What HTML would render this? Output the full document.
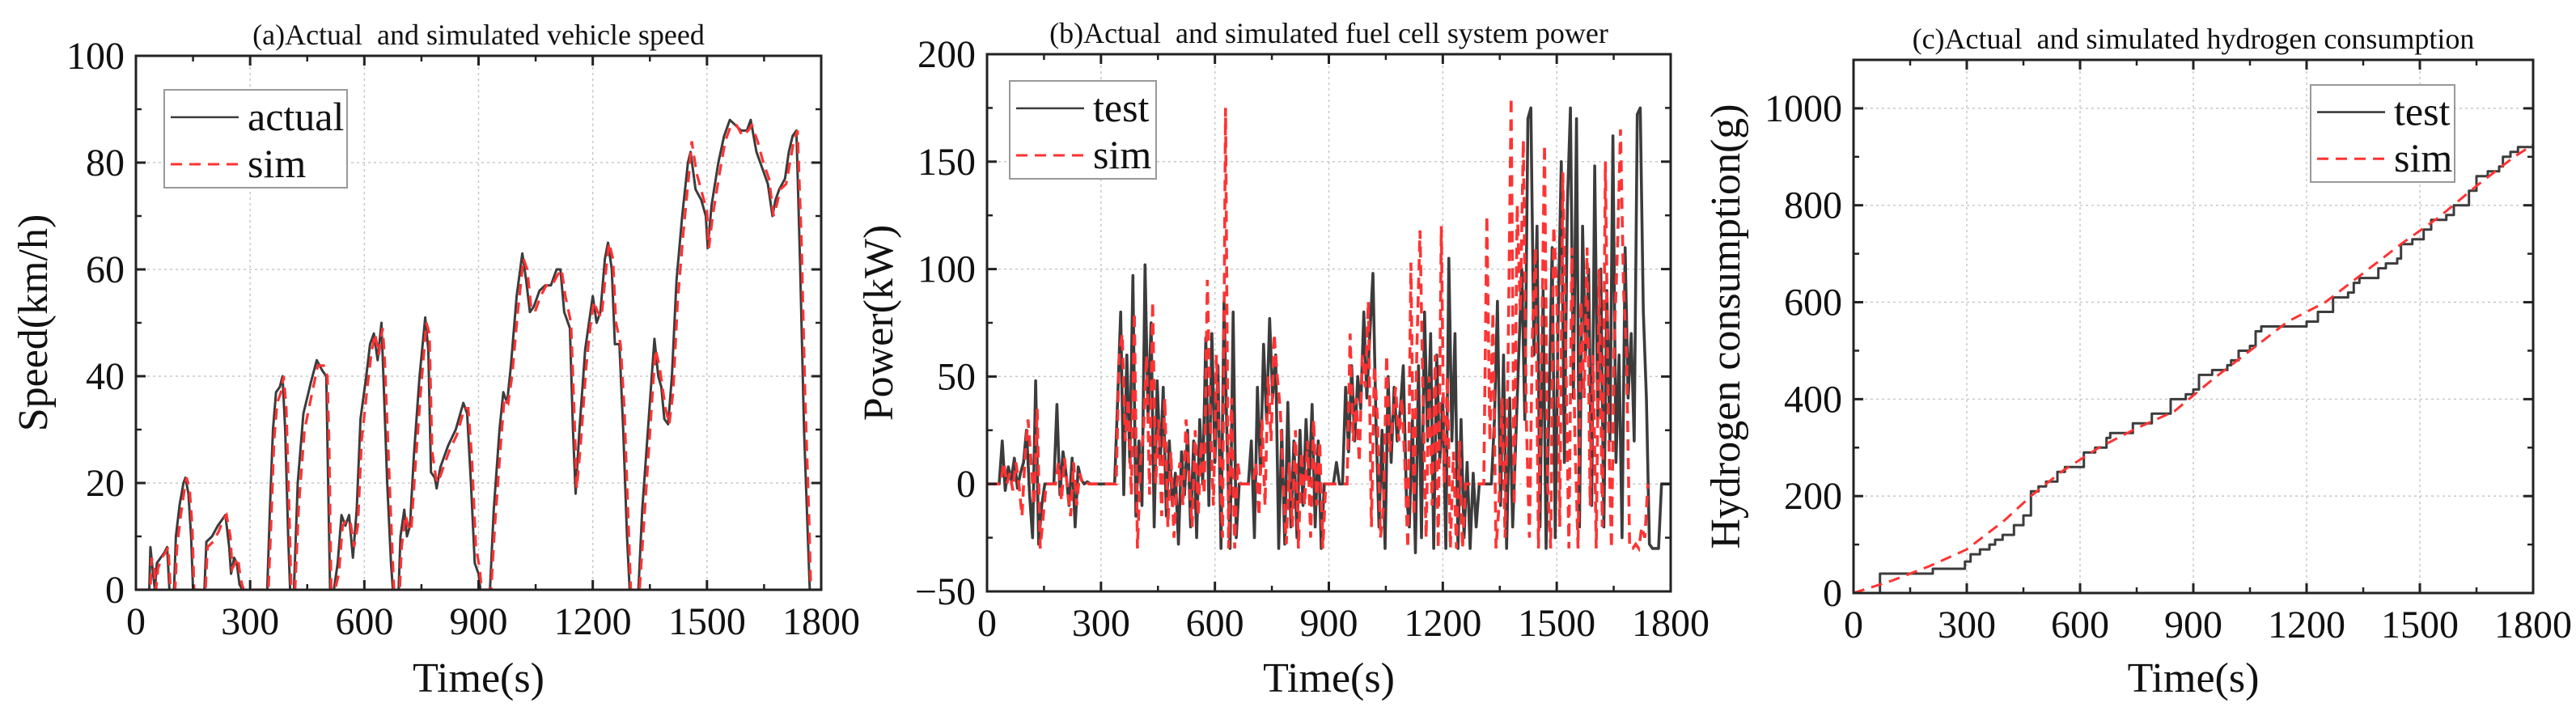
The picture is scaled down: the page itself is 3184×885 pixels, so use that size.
<!DOCTYPE html>
<html><head><meta charset="utf-8">
<style>
html,body{margin:0;padding:0;background:#fff;}
svg{display:block;font-family:"Liberation Serif",serif;}
text{font-family:"Liberation Serif",serif;white-space:pre;}
</style></head>
<body>
<svg id="fig" width="3184" height="885" viewBox="0 0 3184 885" xmlns="http://www.w3.org/2000/svg"></svg>
<script>
// ---- Panel (a) speed data ----
const speedT = [0,35,38,45,50,55,65,75,82,88,100,105,115,125,130,138,145,150,180,185,200,215,225,235,245,250,258,265,272,280,345,352,360,368,378,385,392,400,405,415,425,440,460,475,490,500,505,510,520,530,540,550,560,570,580,590,605,615,625,635,645,650,660,670,675,690,695,705,712,720,730,745,760,768,775,785,790,800,820,840,860,870,880,890,900,905,930,940,955,965,975,985,1000,1015,1025,1035,1045,1060,1075,1090,1105,1115,1125,1140,1148,1155,1165,1180,1190,1200,1210,1220,1232,1240,1250,1258,1270,1280,1290,1297,1320,1330,1345,1355,1362,1372,1380,1388,1398,1408,1420,1435,1450,1457,1470,1485,1497,1502,1512,1530,1545,1560,1575,1590,1605,1615,1630,1645,1660,1672,1680,1690,1705,1715,1725,1735,1745,1755,1765,1770,1800];
const speedActual = [0,0,8,3,0,5,6,7,8,0,0,10,16,20,21,18,10,0,0,9,10,12,13,14,8,3,6,5,1,0,0,15,30,37,38,40,30,10,0,0,20,33,39,43,41,40,20,0,0,5,14,12,14,6,15,32,40,46,48,43,50,40,20,5,0,0,10,15,10,12,25,40,51,45,22,21,19,23,27,30,35,33,20,5,3,0,0,15,30,37,35,42,55,63,58,52,53,56,57,57,60,60,52,49,30,18,30,45,50,55,50,52,62,65,60,46,46,30,10,0,0,15,30,40,47,40,38,32,31,40,58,70,80,82,75,73,70,64,72,80,85,88,87,86,86,88,82,79,76,70,73,75,77,82,85,86,60,30,10,0,0];
const speedSim = [0,0,6,4,0,4,6,7,8,0,0,8,14,19,21,19,12,0,0,8,9,11,13,14,10,4,5,6,2,0,0,12,28,35,37,40,34,14,0,0,16,30,37,42,42,40,26,0,0,3,12,13,13,8,12,28,38,44,48,44,49,44,26,8,0,0,8,14,12,11,22,37,50,48,26,21,20,22,26,29,34,34,24,8,4,0,0,12,27,36,35,40,52,62,60,53,52,55,57,57,59,60,55,50,34,19,27,42,49,54,52,51,60,65,62,50,46,34,14,0,0,11,27,38,45,42,38,34,31,37,54,67,78,84,78,74,71,64,70,78,84,87,87,85,86,87,84,80,77,70,72,75,76,80,84,86,66,36,14,0,0];
// ---- Panel (b) power data (8 s samples) ----
const powerTest = [0,0,0,0,0,20,-3,8,2,12,-2,5,10,25,-5,-25,48,-28,-10,0,0,0,0,37,-5,15,5,-10,12,-20,8,2,0,1,0,0,0,0,0,0,0,0,0,40,80,-5,60,10,97,-15,20,-10,102,30,75,-20,48,10,45,-15,20,-10,5,-28,15,-5,25,-20,20,-25,30,0,68,-10,70,10,55,-30,85,20,-30,80,-25,0,0,0,0,20,-25,45,5,65,30,77,40,60,-30,25,-28,38,-20,20,-25,25,-10,30,0,37,-20,20,-30,0,0,0,0,10,0,0,45,15,55,20,50,35,80,40,70,98,30,-20,25,-30,50,10,45,20,35,55,-5,-20,30,-32,55,-25,80,20,70,-30,60,10,40,-30,105,20,70,-30,30,-25,10,-30,5,-20,0,0,0,0,0,30,85,-10,60,-30,40,-20,20,60,100,30,170,175,60,120,-20,90,-30,40,110,-25,80,150,10,130,175,40,170,-20,120,60,100,-10,148,30,100,-20,90,20,162,10,60,-25,110,40,70,20,172,175,80,40,-28,-30,-30,-30,0,0,0,0];
const powerSim = [0,0,0,0,0,10,0,5,-3,10,0,-15,12,30,10,-10,35,-30,-15,0,0,0,0,10,-8,12,-2,-15,10,-10,5,0,1,0,0,0,0,0,0,0,0,0,0,60,70,20,40,-5,80,-30,10,25,60,-5,85,0,30,-15,40,-20,15,-25,0,10,-10,30,5,-20,25,-15,20,-5,95,30,-10,60,20,-25,175,-30,40,-30,10,0,0,0,0,0,10,-15,30,-10,50,20,70,50,35,0,-28,10,-20,25,-30,15,-10,20,-25,30,-10,20,-30,0,0,0,0,0,0,0,0,70,20,40,10,60,45,85,-20,55,30,-25,-10,60,15,30,45,20,40,10,-30,103,-15,65,118,40,-25,50,-10,60,-30,120,0,50,-30,15,-30,20,-30,0,0,0,0,0,0,0,125,20,80,-30,-10,40,-25,60,180,-10,130,80,160,30,-25,70,110,-30,60,158,0,-30,120,90,-20,145,60,-30,110,20,-30,85,40,110,-10,60,-30,100,-20,150,30,-30,70,110,165,90,60,-30,-30,-28,-30,-20,-25,0];
// ---- Panel (c) hydrogen data ----
const h2TestT = [70,210,295,310,335,360,375,395,425,450,470,490,510,540,560,610,640,670,680,740,790,840,880,900,915,950,990,1000,1020,1050,1065,1080,1200,1230,1270,1310,1325,1340,1390,1410,1440,1450,1480,1510,1530,1570,1590,1630,1650,1680,1710,1720,1740,1760,1800];
const h2Test = [40,50,65,80,90,100,110,120,140,160,210,220,230,250,260,290,300,320,330,350,370,400,410,420,450,460,470,480,500,510,540,550,560,580,610,620,640,650,670,680,690,720,730,750,770,780,800,830,860,870,880,900,910,920,925];
const h2SimT = [0,100,200,300,400,470,550,650,750,850,950,1050,1150,1250,1350,1450,1550,1650,1750,1800];
const h2Sim = [0,25,55,90,150,200,250,300,340,375,440,500,560,600,660,720,775,840,900,925];
const xTicks = [0,300,600,900,1200,1500,1800];
const speedTicks = [0,20,40,60,80,100];
const powerTicks = [-50,0,50,100,150,200];
const h2Ticks = [0,200,400,600,800,1000];

const NS = "http://www.w3.org/2000/svg";
const svg = document.getElementById('fig');
const FF = '"Liberation Serif", serif';
function mk(tag, attrs, parent){
  const e = document.createElementNS(NS, tag);
  for (const k in attrs) e.setAttribute(k, attrs[k]);
  if (tag === 'text') e.setAttribute('font-family', FF);
  (parent||svg).appendChild(e);
  return e;
}
function panel(p){
  const g = mk('g', {});
  
  
  const sx = v => p.x0 + (v - 0) / 1800 * (p.x1 - p.x0);
  const sy = v => p.y1 - (v - p.ymin) / (p.ymax - p.ymin) * (p.y1 - p.y0);
  xTicks.forEach(t => { if (t>0 && t<1800){ const l = mk('line',{x1:sx(t),x2:sx(t),y1:p.y0,y2:p.y1,stroke:'#c8c8c8','stroke-width':1.5,'stroke-dasharray':'3 4'},g);
      }});
  p.yTicks.forEach(t => { if (t>p.ymin && t<p.ymax){ const l = mk('line',{x1:p.x0,x2:p.x1,y1:sy(t),y2:sy(t),stroke:'#c8c8c8','stroke-width':1.5,'stroke-dasharray':'3 4'},g);
      }});
  const clip = mk('clipPath',{id:'clip'+p.id},g);
  mk('rect',{x:p.x0,y:p.y0,width:p.x1-p.x0,height:p.y1-p.y0},clip);
  const path = (ts, vs) => ts.map((t,i)=> (i?'L':'M')+sx(t).toFixed(1)+','+sy(vs[i]).toFixed(1)).join('');
  const stepPath = (ts, vs) => ts.map((t,i)=> i ? 'H'+sx(t).toFixed(1)+'V'+sy(vs[i]).toFixed(1) : 'M'+sx(t).toFixed(1)+','+sy(0).toFixed(1)+'V'+sy(vs[i]).toFixed(1)).join('');
  const d1 = p.step ? stepPath(p.t1,p.v1) : path(p.t1,p.v1);
  const s1 = mk('path',{d:d1,fill:'none',stroke:'#3c3c3c','stroke-width':p.w1||2.6,'stroke-linejoin':'round','clip-path':'url(#clip'+p.id+')'},g);
  
  
  const s2 = mk('path',{d:path(p.t2,p.v2),fill:'none',stroke:'#ff3333','stroke-width':p.w2||3,'stroke-dasharray':'14 9','clip-path':'url(#clip'+p.id+')'},g);
  
  
  const fr = mk('rect',{x:p.x0,y:p.y0,width:p.x1-p.x0,height:p.y1-p.y0,fill:'none',stroke:'#222','stroke-width':3},g);
  
  
  xTicks.forEach((t,i) => {
    const x = sx(t);
    mk('line',{x1:x,x2:x,y1:p.y1,y2:p.y1-12,stroke:'#222','stroke-width':3},g);
    mk('line',{x1:x,x2:x,y1:p.y0,y2:p.y0+12,stroke:'#222','stroke-width':3},g);
    if (i<xTicks.length-1){ const xm = sx(t+150);
      mk('line',{x1:xm,x2:xm,y1:p.y1,y2:p.y1-7,stroke:'#222','stroke-width':2.5},g);
      mk('line',{x1:xm,x2:xm,y1:p.y0,y2:p.y0+7,stroke:'#222','stroke-width':2.5},g);}
    const tx = mk('text',{x:x,y:p.y1+55,'text-anchor':'middle','font-size':48,fill:'#111'},g);
    tx.textContent = t;
    
    
  });
  const step = p.yTicks[1]-p.yTicks[0];
  p.yTicks.forEach((t,i) => {
    const y = sy(t);
    mk('line',{x1:p.x0,x2:p.x0+12,y1:y,y2:y,stroke:'#222','stroke-width':3},g);
    mk('line',{x1:p.x1,x2:p.x1-12,y1:y,y2:y,stroke:'#222','stroke-width':3},g);
    const ym = sy(t+step/2);
    if (t+step/2 < p.ymax){
      mk('line',{x1:p.x0,x2:p.x0+7,y1:ym,y2:ym,stroke:'#222','stroke-width':2.5},g);
      mk('line',{x1:p.x1,x2:p.x1-7,y1:ym,y2:ym,stroke:'#222','stroke-width':2.5},g);}
    const tx = mk('text',{x:p.x0-14,y:y+16,'text-anchor':'end','font-size':48,fill:'#111'},g);
    tx.textContent = t<0 ? '\u2212'+(-t) : t;
    
    
  });
  const xt = mk('text',{x:(p.x0+p.x1)/2,y:855,'text-anchor':'middle','font-size':52,fill:'#111'},g);
  xt.textContent = 'Time(s)';
  
  
  const yc = (p.y0+p.y1)/2;
  const yt = mk('text',{x:p.ylx,y:yc,'text-anchor':'middle','font-size':52,fill:'#111',transform:'rotate(-90 '+p.ylx+' '+yc+')'},g);
  yt.textContent = p.ylabel;
  
  
  const ti = mk('text',{x:(p.x0+p.x1)/2,y:p.y0-14,'text-anchor':'middle','font-size':36,fill:'#111'},g);
  ti.textContent = p.title;
  
  
  const L = p.leg;
  const lg = mk('g',{},g);
  
  
  mk('rect',{x:L.x,y:L.y,width:L.w,height:L.h,fill:'#fff',stroke:'#999','stroke-width':2},lg);
  const ly1 = L.y + L.h*0.28, ly2 = L.y + L.h*0.76;
  mk('line',{x1:L.x+8,x2:L.x+92,y1:ly1,y2:ly1,stroke:'#3c3c3c','stroke-width':2.6},lg);
  mk('line',{x1:L.x+8,x2:L.x+92,y1:ly2,y2:ly2,stroke:'#ff3333','stroke-width':3,'stroke-dasharray':'14 9'},lg);
  const e1 = mk('text',{x:L.x+103,y:ly1+16,'font-size':50,fill:'#111'},lg);
  e1.textContent = p.n1;
  
  
  const e2 = mk('text',{x:L.x+103,y:ly2+16,'font-size':50,fill:'#111'},lg);
  e2.textContent = 'sim';
  
  
}
const powerTT = powerTest.map((v,i)=>i*8);
const powerST = powerSim.map((v,i)=>i*8+4);
panel({id:'a',name:'speed-chart',x0:168,x1:1015,y0:69,y1:729,ymin:0,ymax:100,yTicks:speedTicks,
  t1:speedT,v1:speedActual,t2:speedT.map(t=>t+3),v2:speedSim,n1:'actual',ylabel:'Speed(km/h)',ylx:58,
  title:'(a)Actual  and simulated vehicle speed',leg:{x:203,y:111,w:226,h:121},w1:3,w2:3.2});
panel({id:'b',name:'power-chart',x0:1220,x1:2065,y0:67,y1:731,ymin:-50,ymax:200,yTicks:powerTicks,
  t1:powerTT,v1:powerTest,t2:powerST,v2:powerSim,n1:'test',ylabel:'Power(kW)',ylx:1103,
  title:'(b)Actual  and simulated fuel cell system power',leg:{x:1248,y:100,w:181,h:121},w1:3.6,w2:3.6});
panel({id:'c',name:'hydrogen-chart',x0:2291,x1:3131,y0:74,y1:733,ymin:0,ymax:1100,yTicks:h2Ticks,step:true,
  t1:h2TestT,v1:h2Test,t2:h2SimT,v2:h2Sim,n1:'test',ylabel:'Hydrogen consumption(g)',ylx:2150,
  title:'(c)Actual  and simulated hydrogen consumption',leg:{x:2856,y:105,w:178,h:120},w1:3,w2:3});
</script>
</body></html>
